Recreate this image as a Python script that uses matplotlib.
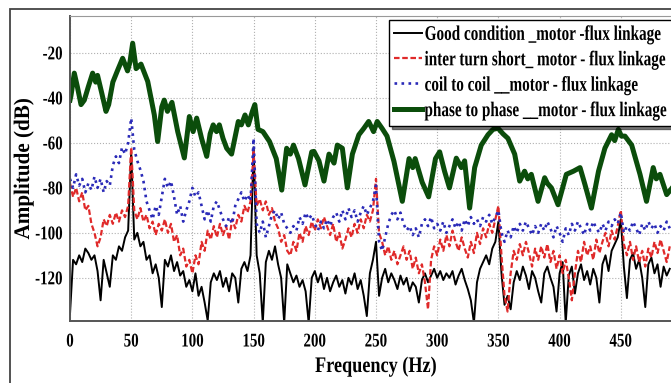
import matplotlib
matplotlib.use('Agg')
import matplotlib.pyplot as plt
import numpy as np
from matplotlib.patches import Rectangle
from matplotlib.patheffects import AbstractPathEffect
from matplotlib.transforms import Affine2D

# frequency grid of the noisy spectra (Hz), one value read every 2.5 Hz
freq = np.arange(0, 492.5, 2.5)

good = [-136, -112, -114, -110, -113, -107, -109, -112, -110, -117, -130, -112, -118, -124, -110, -112, -106, -108, -102, -99,
        -64, -103, -100, -106, -104, -112, -110, -118, -114, -120, -133, -112, -115, -110, -117, -113, -119, -117, -124, -121,
        -126, -118, -128, -124, -131, -139, -122, -118, -121, -117, -124, -120, -126, -118, -120, -131, -116, -113, -117, -110,
        -62, -110, -118, -140, -113, -108, -112, -106, -114, -120, -140, -114, -118, -122, -119, -124, -121, -126, -140, -120,
        -117, -122, -118, -125, -120, -126, -122, -119, -124, -121, -127, -120, -123, -118, -125, -121, -128, -137, -118, -112,
        -104, -128, -120, -116, -122, -118, -121, -125, -119, -123, -120, -126, -122, -124, -131, -121, -118, -122, -119, -116,
        -120, -117, -121, -118, -120, -117, -123, -119, -116, -121, -125, -130, -140, -122, -116, -113, -110, -114, -107, -104,
        -95, -118, -132, -128, -134, -122, -117, -121, -115, -119, -125, -117, -120, -126, -131, -118, -115, -120, -124, -135,
        -118, -113, -140, -119, -115, -127, -118, -114, -121, -117, -123, -116, -120, -131, -114, -110, -117, -108, -105, -102,
        -94, -115, -129, -112, -109, -116, -112, -120, -133, -114, -111, -118, -114, -124, -115, -119, -116]

inter_turn = [-78, -84, -80, -86, -82, -90, -88, -96, -100, -106, -102, -94, -97, -92, -96, -91, -95, -90, -93, -88,
              -62, -90, -94, -89, -95, -92, -98, -95, -101, -96, -99, -94, -100, -96, -104, -101, -110, -107, -115, -112,
              -118, -110, -114, -104, -108, -99, -103, -97, -102, -96, -101, -97, -103, -94, -98, -92, -95, -88, -91, -86,
              -64, -88, -85, -90, -86, -92, -89, -95, -98, -104, -101, -108, -110, -104, -108, -100, -104, -97, -101, -95,
              -99, -94, -98, -93, -97, -101, -96, -104, -100, -107, -103, -98, -102, -96, -100, -94, -98, -92, -95, -90,
              -76, -100, -104, -110, -106, -112, -108, -114, -110, -106, -112, -108, -116, -111, -118, -114, -122, -134, -112, -106,
              -110, -103, -108, -101, -106, -99, -104, -108, -102, -107, -111, -104, -109, -100, -105, -98, -102, -96, -100, -94,
              -88, -110, -128, -135, -118, -108, -112, -105, -110, -104, -109, -115, -107, -112, -106, -111, -105, -113, -108, -116,
              -110, -118, -112, -120, -130, -118, -108, -113, -104, -110, -106, -112, -103, -109, -104, -100, -106, -99, -103, -97,
              -90, -105, -110, -104, -112, -106, -113, -108, -115, -107, -111, -104, -109, -103, -108, -113, -106]

coil = [-76, -80, -74, -79, -76, -82, -78, -81, -75, -80, -76, -82, -77, -79, -70, -66, -69, -62, -65, -60,
        -49, -63, -68, -72, -77, -86, -90, -94, -88, -92, -84, -76, -80, -77, -84, -92, -88, -95, -90, -86,
        -80, -84, -82, -88, -94, -90, -95, -88, -86, -90, -94, -97, -93, -96, -88, -85, -82, -86, -83, -86,
        -58, -96, -100, -95, -102, -97, -92, -90, -94, -91, -96, -98, -100, -97, -99, -93, -96, -91, -94, -92,
        -96, -99, -95, -98, -94, -97, -93, -91, -95, -90, -94, -89, -93, -90, -95, -91, -88, -92, -89, -86,
        -79, -104, -108, -102, -96, -92, -90, -94, -91, -96, -99, -97, -101, -98, -102, -96, -94, -97, -93, -98,
        -96, -99, -95, -100, -97, -94, -98, -95, -99, -94, -97, -93, -96, -94, -97, -93, -95, -92, -96, -93,
        -90, -100, -104, -99, -102, -97, -100, -96, -99, -95, -98, -101, -97, -100, -96, -99, -95, -98, -102, -97,
        -100, -104, -98, -101, -96, -99, -95, -98, -101, -96, -99, -95, -98, -100, -96, -99, -95, -97, -94, -96,
        -91, -100, -97, -99, -95, -98, -101, -96, -99, -95, -98, -96, -100, -97, -99, -95, -98]

# phase to phase spectrum, read point by point (tops and dips of the ripple)
phase_freq = [0, 0.8, 3.5, 6, 9, 11.7, 15, 18.5, 21, 22.5, 26, 29.4, 31.6, 35, 39, 43, 47, 49, 51.2, 54, 58,
              63.5, 68.9, 71.6, 75, 77, 79.6, 83.3, 88, 93.4, 97.5, 100.6, 103.5, 107.5, 111.7, 114.5, 117,
              119.7, 122, 125, 128, 132, 137.5, 140, 143, 145.7, 149, 151, 153.6, 157.6, 163, 168.5, 173,
              177, 180, 182.6, 186.7, 192, 197.5, 199.3, 203.4, 207.5, 211.6, 215.7, 218.4, 222.5, 226.6,
              230.7, 236, 240, 244, 248, 251, 255, 259, 264.7, 271.5, 277, 280, 282, 287.7, 293, 298.6, 302,
              306, 310, 315.6, 319.7, 322.4, 326.5, 330.6, 336, 341.5, 345.6, 349.7, 353.8, 357.8, 363.3,
              367.4, 371.4, 374, 376.9, 382.4, 387.8, 390, 393.3, 398.7, 405.5, 411.3, 416.7, 420.8, 426,
              431.8, 437, 442.5, 445, 448, 450.5, 453.4, 458.9, 465.7, 471, 476.5, 479, 482, 487.5, 492]
phase = [-41, -39, -29, -35, -43, -41, -35, -29, -33, -30, -38, -46, -43, -33, -27.6, -22.4, -28, -24, -15.7, -27, -25,
         -32.7, -47.6, -59.4, -44, -41, -46, -42, -55, -66.7, -48.3, -55, -49, -58, -66, -56, -52,
         -55, -52, -58, -62.4, -65, -50.5, -52, -47.6, -52, -46, -43, -54, -55, -59.4, -67, -81,
         -62.4, -65, -61, -67, -78.7, -64, -63.8, -68, -77, -65, -69, -61, -62.4, -80,
         -65, -56.4, -53.6, -50.5, -55, -50.5, -53.6, -57, -68.3, -86, -67, -71, -67, -77.5, -84, -67, -64,
         -72.6, -80, -66.8, -71, -68, -89, -71, -61, -56.4, -54, -53.5, -56, -58, -65,
         -77, -72.6, -76, -74, -86, -75.5, -78, -80, -87.5, -74, -72.6, -71, -78.7, -89,
         -72.6, -62.4, -56.4, -59, -54, -57, -57, -61, -74, -86, -71, -76, -74, -83, -80]

labels = ['Good condition _motor -flux linkage',
          'inter turn short_ motor - flux linkage',
          'coil to coil __motor - flux linkage',
          'phase to phase __motor - flux linkage']


class Squeeze(AbstractPathEffect):
    """draw text narrower (the original uses a condensed Times face)"""

    def __init__(self, sx, anchor='center'):
        super().__init__()
        self.sx = sx
        self.anchor = anchor

    def draw_path(self, renderer, gc, tpath, affine, rgbFace=None):
        ext = tpath.get_extents()
        x0 = {'left': ext.x0, 'right': ext.x1}.get(self.anchor, (ext.x0 + ext.x1) / 2)
        sq = Affine2D().translate(-x0, 0).scale(self.sx, 1).translate(x0, 0)
        renderer.draw_path(gc, tpath, sq + affine, rgbFace)


plt.rcParams['font.family'] = 'Liberation Serif'
plt.rcParams['font.weight'] = 'bold'
plt.rcParams['axes.unicode_minus'] = False

fig = plt.figure(figsize=(6.71, 3.83), dpi=100)
fig.patches.append(Rectangle((10 / 671, -0.2), 1.2, 0.2 + 374 / 383, transform=fig.transFigure,
                             fill=False, edgecolor='#444444', linewidth=1.3))
ax = fig.add_axes([70 / 671, 62 / 383, 612 / 671, 305 / 383])

ax.plot(freq, good, color='black', linewidth=1.4, label=labels[0])
ax.plot(freq, inter_turn, color='#e02a2a', linestyle='--', linewidth=1.6, dashes=(2.5, 1.2), label=labels[1])
ax.plot(freq, coil, color='#2a2ab8', linestyle=':', linewidth=1.9, label=labels[2])
ax.plot(phase_freq, phase, color='#0b4d0b', linewidth=3.6, label=labels[3])

ax.set_xlim(0, 500)
ax.set_ylim(-139.2, -3.6)
ax.set_xticks(np.arange(0, 500, 50))
ax.set_yticks([-120, -100, -80, -60, -40, -20])
ax.grid(True, linestyle=':', color='#b0b0b0', linewidth=0.8)
ax.tick_params(length=0, labelsize=14)
ax.tick_params(axis='x', pad=9)
ax.tick_params(axis='y', pad=5)
for lab in ax.get_xticklabels():
    lab.set_fontweight('bold')
    lab.set_path_effects([Squeeze(0.77)])
for lab in ax.get_yticklabels():
    lab.set_fontweight('bold')
    lab.set_path_effects([Squeeze(0.77, 'right')])
for side in ['top', 'right']:
    ax.spines[side].set_color('#999999')
for side in ['left', 'bottom']:
    ax.spines[side].set_color('#555555')
    ax.spines[side].set_linewidth(1.4)

ax.set_xlabel('Frequency (Hz)', fontsize=16, fontweight='bold', va='center',
              path_effects=[Squeeze(0.82)])
ax.xaxis.set_label_coords(0.5, (321 - 367) / 305)
ax.set_ylabel('Amplitude (dB)', fontsize=16, fontweight='bold', va='center',
              path_effects=[Squeeze(0.95)])
ax.yaxis.set_label_coords((24 - 70) / 612, 0.5)

leg = ax.legend(loc='upper left', bbox_to_anchor=(0.5212, 0.988), fontsize=15, frameon=True,
                fancybox=False, edgecolor='black', handlelength=1.35, handletextpad=0.1,
                labelspacing=0.26, borderpad=0.25, borderaxespad=0,
                shadow={'color': 'black'})
leg.get_frame().set_linewidth(1.0)
for t in leg.get_texts():
    t.set_fontweight('bold')
    t.set_path_effects([Squeeze(0.73, 'left')])

fig.savefig('out.png', dpi=100)
